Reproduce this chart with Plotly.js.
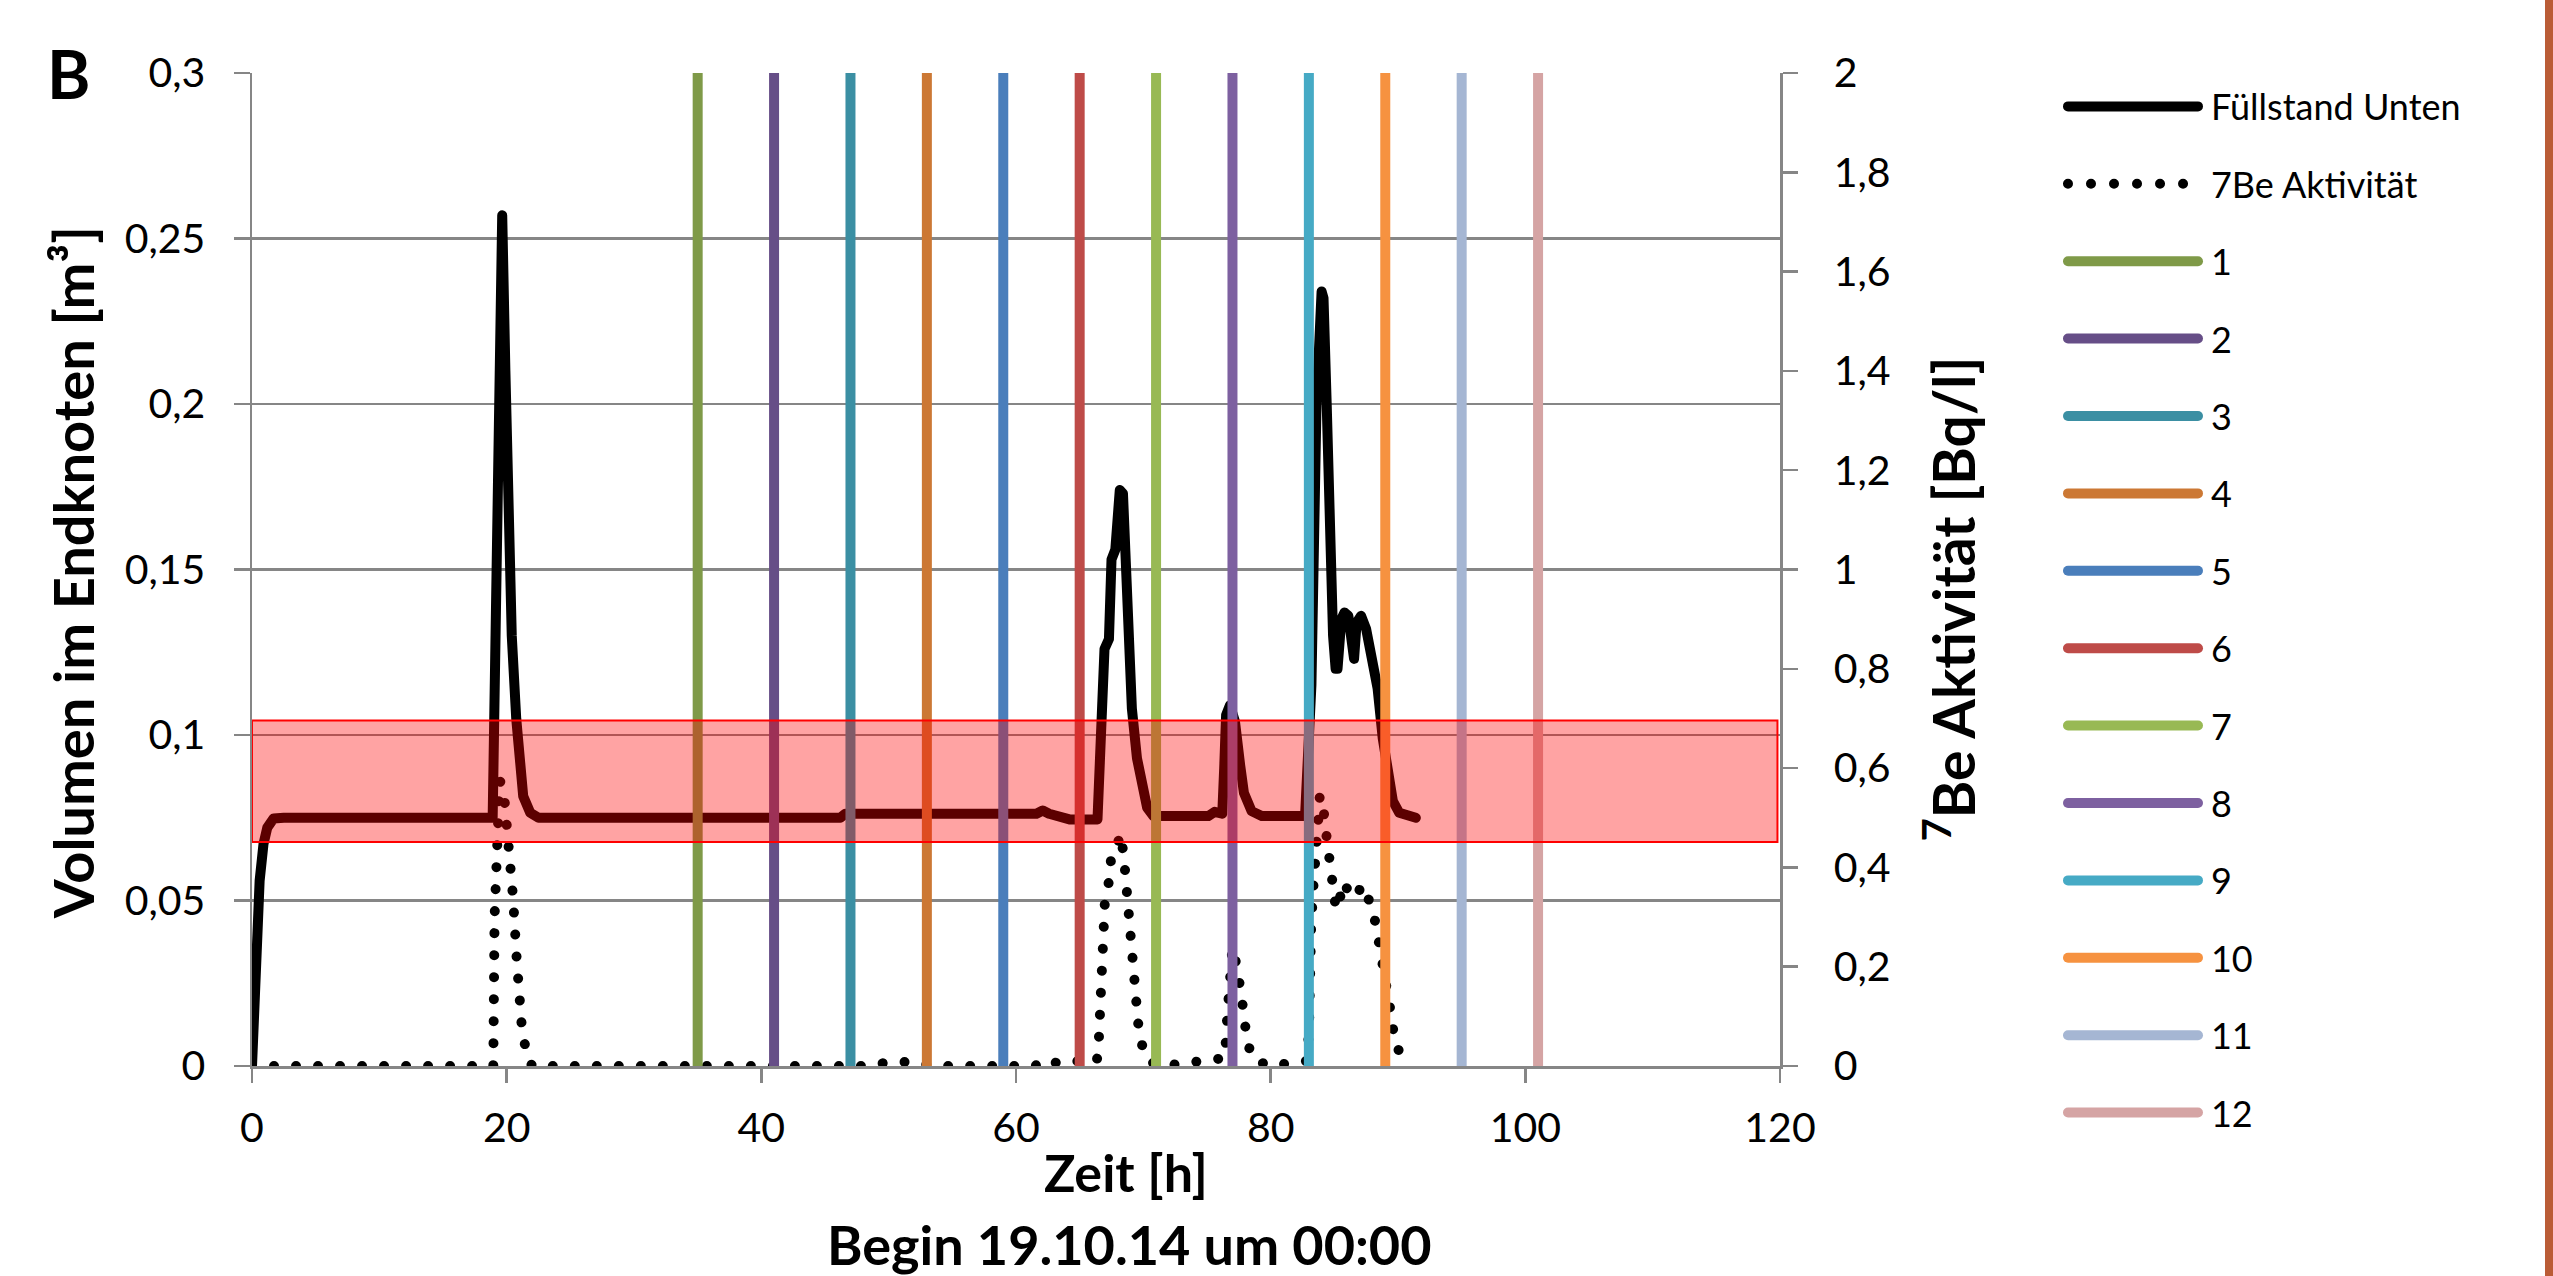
<!DOCTYPE html>
<html><head><meta charset="utf-8">
<script src="https://cdn.plot.ly/plotly-3.0.1.min.js"></script>
<style>
html,body{margin:0;padding:0;background:#fff;overflow:hidden}
#chart{width:2553px;height:1276px}
#stripe{position:absolute;top:0;left:2545px;width:8px;height:1276px;background:#BA5C36}
</style></head><body>
<div id="chart"></div><div id="stripe"></div>
<script>
// Füllstand Unten (left axis, m³)
const fsTime = [0, 0.2, 0.4, 0.6, 0.9, 1.2, 1.7, 2.5, 18.9, 19.2, 19.65, 19.9, 20.1, 20.4, 20.75, 21.0, 21.3, 21.85, 22.5, 46.2, 46.6, 61.6, 62.1, 62.6, 64.2, 66.4, 66.6, 66.75, 66.95, 67.3, 67.5, 67.8, 68.15, 68.4, 68.6, 68.8, 69.1, 69.5, 69.9, 70.3, 70.8, 75.1, 75.6, 76.2, 76.35, 76.5, 76.8, 77.2, 77.6, 77.9, 78.5, 79.3, 82.7, 82.95, 83.2, 83.6, 84.0, 84.15, 84.4, 84.65, 84.9, 85.1, 85.25, 85.55, 85.8, 86.1, 86.4, 86.55, 86.75, 87.1, 87.5, 87.9, 88.4, 88.8, 89.2, 89.6, 90.1, 90.9, 91.4];
const fsVolume = [0, 0.022, 0.042, 0.056, 0.067, 0.072, 0.0748, 0.075, 0.075, 0.148, 0.257, 0.21, 0.168, 0.13, 0.105, 0.092, 0.0815, 0.0765, 0.075, 0.075, 0.0762, 0.0762, 0.0772, 0.0762, 0.0745, 0.0745, 0.09, 0.107, 0.126, 0.129, 0.153, 0.156, 0.174, 0.173, 0.158, 0.14, 0.108, 0.093, 0.084, 0.078, 0.0755, 0.0755, 0.0768, 0.0762, 0.09, 0.106, 0.109, 0.104, 0.091, 0.0825, 0.077, 0.0755, 0.0755, 0.095, 0.115, 0.2, 0.234, 0.232, 0.2, 0.16, 0.13, 0.12, 0.12, 0.135, 0.137, 0.136, 0.125, 0.123, 0.134, 0.136, 0.132, 0.124, 0.114, 0.099, 0.088, 0.080, 0.0765, 0.0755, 0.075];

// 7Be Aktivität (right axis, Bq/l)
const beTime = [0, 18.95, 19.05, 19.2, 19.45, 19.75, 20.1, 20.5, 20.8, 21.2, 21.6, 22.0, 48.5, 50, 52, 53.5, 61.5, 62.1, 63, 64, 65.5, 66.35, 66.5, 66.6, 66.67, 66.74, 66.97, 67.27, 67.45, 67.83, 68.2, 68.46, 68.69, 68.84, 69.14, 69.4, 69.59, 69.89, 70.45, 71.5, 75.5, 76.4, 76.6, 76.8, 77.0, 77.4, 77.7, 77.9, 78.1, 78.5, 79.8, 82.8, 83.0, 83.07, 83.18, 83.37, 83.56, 83.75, 83.85, 84.15, 84.2, 84.45, 84.6, 84.9, 85.13, 85.43, 85.8, 86.2, 86.7, 87.2, 87.8, 88.24, 88.54, 88.73, 89.0, 89.36, 89.55, 89.74, 90.5];
const beActivity = [0, 0, 0.3, 0.45, 0.575, 0.56, 0.47, 0.34, 0.21, 0.075, 0.02, 0, 0, 0.008, 0.008, 0, 0, 0.012, 0.006, 0.012, 0.008, 0.01, 0.05, 0.106, 0.194, 0.284, 0.326, 0.368, 0.413, 0.432, 0.468, 0.425, 0.349, 0.306, 0.216, 0.131, 0.087, 0.043, 0.009, 0, 0.01, 0.016, 0.104, 0.194, 0.239, 0.194, 0.149, 0.104, 0.059, 0.018, 0, 0.01, 0.063, 0.19, 0.284, 0.369, 0.414, 0.5, 0.542, 0.542, 0.5, 0.455, 0.41, 0.368, 0.315, 0.338, 0.371, 0.342, 0.342, 0.365, 0.329, 0.288, 0.245, 0.203, 0.162, 0.13, 0.09, 0.045, 0.013];

// Sampling times (vertical markers)
const sampleNames = ['1','2','3','4','5','6','7','8','9','10','11','12'];
const sampleTimes = [35, 41, 47, 53, 59, 65, 71, 77, 83, 89, 95, 101];
const sampleColors = ['#7F9A48','#664E87','#3B8FA3','#CC7834','#4A7EBB','#BE4B48','#98B954','#7D60A0','#46AAC5','#F69240','#A5B6D3','#D5A4A4'];
const sampleSpan = [0, 2];

// Highlight band (left axis units)
const bandRange = [0.0677, 0.1044];
const bandTime = [0, 119.8];

const xTickVals = [0, 20, 40, 60, 80, 100, 120];

const FONT = 'Lato, "Open Sans", sans-serif';
const GRID = '#868686';
const TICK = 41;

const data = [];
data.push({
  x: fsTime, y: fsVolume, yaxis: 'y', type: 'scatter', mode: 'lines', uid: 'fs',
  name: 'Füllstand Unten', legendgroup: 'g0',
  line: {color: '#000000', width: 10}
});
data.push({
  x: beTime, y: beActivity, yaxis: 'y2', type: 'scatter', mode: 'lines', uid: 'be7',
  name: '7Be Aktivität', legendgroup: 'g1',
  line: {color: '#000000', width: 10, dash: 'dot'}
});
sampleTimes.forEach((t, i) => {
  data.push({
    x: [t, t], y: sampleSpan, yaxis: 'y2', type: 'scatter', mode: 'lines',
    name: sampleNames[i], legendgroup: 'g' + (i + 2),
    line: {color: sampleColors[i], width: 10}
  });
});

const layout = {
  width: 2553, height: 1276,
  margin: {l: 252, r: 773, t: 73, b: 210},
  paper_bgcolor: '#ffffff', plot_bgcolor: '#ffffff',
  separators: ',.',
  font: {family: FONT, size: 38, color: '#000'},
  showlegend: true,
  legend: {
    x: 1.1852, y: 0.9965, xanchor: 'left', yanchor: 'top',
    font: {family: FONT, size: 36, color: '#000'},
    traceorder: 'grouped', tracegroupgap: 27.6, itemwidth: 138,
    maxheight: 1250,
    bgcolor: 'rgba(0,0,0,0)', borderwidth: 0
  },
  xaxis: {
    range: [0, 120], tickvals: xTickVals, showgrid: false, zeroline: false,
    showline: true, linecolor: GRID, linewidth: 2.5,
    ticks: 'outside', ticklen: 14, tickwidth: 2.5, tickcolor: GRID,
    ticklabelstandoff: 10,
    tickfont: {family: FONT, size: TICK, color: '#000'}
  },
  yaxis: {
    range: [0, 0.3], dtick: 0.05, showgrid: true, gridcolor: GRID, gridwidth: 2.5,
    zeroline: false, showline: true, linecolor: GRID, linewidth: 2.5,
    ticks: 'outside', ticklen: 16, tickwidth: 2.5, tickcolor: GRID,
    ticklabelstandoff: 20,
    tickfont: {family: FONT, size: TICK, color: '#000'}
  },
  yaxis2: {
    range: [0, 2], dtick: 0.2, overlaying: 'y', side: 'right', showgrid: false,
    zeroline: false, showline: true, linecolor: GRID, linewidth: 2.5,
    ticks: 'outside', ticklen: 15, tickwidth: 2.5, tickcolor: GRID,
    ticklabelstandoff: 28,
    tickfont: {family: FONT, size: TICK, color: '#000'}
  },
  shapes: [{
    type: 'rect', layer: 'above', xref: 'x', yref: 'y',
    x0: bandTime[0], x1: bandTime[1], y0: bandRange[0], y1: bandRange[1],
    fillcolor: 'rgba(255,0,0,0.36)', line: {color: '#FF0000', width: 2}
  }],
  annotations: [
    {text: '<b>B</b>', xref: 'paper', yref: 'paper', x: -0.1204, y: 1.0, xanchor: 'center', yanchor: 'middle', showarrow: false, font: {family: FONT, size: 66, color: '#000'}},
    {text: '<b>Volumen im Endknoten [m³]</b>', xref: 'paper', yref: 'paper', x: -0.117, y: 0.4965, textangle: -90, xanchor: 'center', yanchor: 'middle', showarrow: false, font: {family: FONT, size: 56, color: '#000'}},
    {text: '<b><sup>7</sup>Be Aktivität [Bq/l]</b>', xref: 'paper', yref: 'paper', x: 1.1106, y: 0.471, textangle: -90, xanchor: 'center', yanchor: 'middle', showarrow: false, font: {family: FONT, size: 57, color: '#000'}},
    {text: '<b>Zeit [h]</b>', xref: 'paper', yref: 'paper', x: 0.572, y: -0.107, xanchor: 'center', yanchor: 'middle', showarrow: false, font: {family: FONT, size: 52, color: '#000'}},
    {text: '<b>Begin 19.10.14 um 00:00</b>', xref: 'paper', yref: 'paper', x: 0.5746, y: -0.18, xanchor: 'center', yanchor: 'middle', showarrow: false, font: {family: FONT, size: 54, color: '#000'}}
  ],
  hovermode: false
};

function fixStyles(gd) {
  gd.querySelectorAll('.tracebe7 path.js-line').forEach(p => {
    p.style.strokeDasharray = '0.01px,22px';
    p.style.strokeLinecap = 'round';
  });
  gd.querySelectorAll('.tracefs path.js-line').forEach(p => {
    p.style.strokeLinejoin = 'round';
    p.style.strokeLinecap = 'round';
  });
  const items = gd.querySelectorAll('.legend .traces');
  items.forEach((g, i) => {
    g.querySelectorAll('.legendlines path').forEach(p => {
      p.setAttribute('d', 'M5,0h130');
      p.style.strokeLinecap = 'round';
      p.style.strokeWidth = '10px';
      if (i === 1) p.style.strokeDasharray = '0.01px,23px';
    });
  });
}

Plotly.newPlot('chart', data, layout, {staticPlot: true, displayModeBar: false}).then(fixStyles);
</script>
</body></html>
